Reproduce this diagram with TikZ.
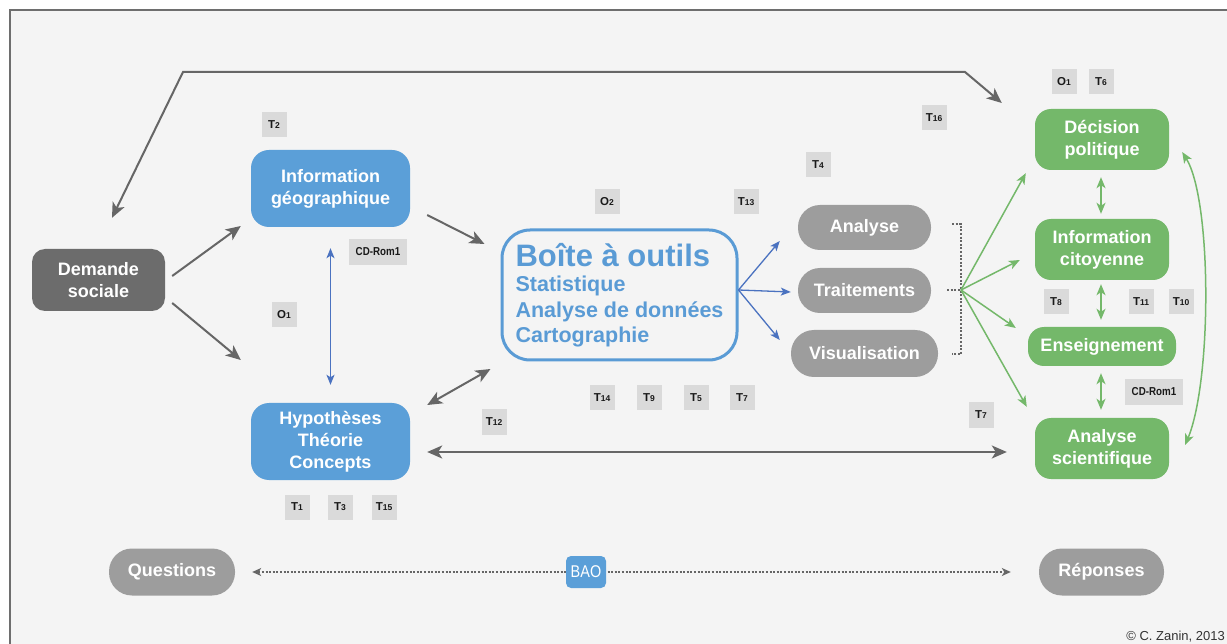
\documentclass[tikz,border=0pt]{standalone}
\usepackage{fontspec}
\setmainfont{Liberation Sans}
\usetikzlibrary{arrows.meta}
\definecolor{bgc}{HTML}{F4F4F4}
\definecolor{framec}{HTML}{6E6E6E}
\definecolor{darkbox}{HTML}{6C6C6C}
\definecolor{bluebox}{HTML}{5B9FD8}
\definecolor{blueline}{HTML}{5A9BD5}
\definecolor{bluearr}{HTML}{4A72C0}
\definecolor{graypill}{HTML}{9D9D9D}
\definecolor{greenbox}{HTML}{74B86A}
\definecolor{labfill}{HTML}{DADADA}
\definecolor{arrgray}{HTML}{666666}
\newcommand{\Tn}[1]{T{\fontsize{8.5}{8.5}\selectfont #1}}
\tikzset{
  boxbase/.style={inner sep=0pt, text=white, align=center,
    font=\fontsize{18}{22}\selectfont\bfseries},
  darknode/.style={boxbase, fill=darkbox, rounded corners=13pt, minimum width=133pt, minimum height=62pt},
  bluenode/.style={boxbase, fill=bluebox, rounded corners=18pt, minimum width=159pt, minimum height=77pt},
  pillnode/.style={boxbase, fill=graypill, rounded corners=22pt},
  greennode/.style={boxbase, fill=greenbox, rounded corners=16pt, minimum width=134pt, minimum height=61pt},
  tlab/.style={fill=labfill, inner sep=0pt, minimum width=25pt, minimum height=25pt,
    text=black!90, font=\fontsize{11.5}{11.5}\selectfont\bfseries},
  garrow/.style={draw=arrgray, line width=2pt, -{Stealth[length=15pt,width=13pt,inset=4pt]}},
  gboth/.style={draw=arrgray, line width=2pt, {Stealth[length=15pt,width=13pt,inset=4pt]}-{Stealth[length=15pt,width=13pt,inset=4pt]}},
  barrow/.style={draw=bluearr, line width=1.3pt, -{Stealth[length=10pt,width=8pt,inset=2.5pt]}},
  bboth/.style={draw=bluearr, line width=1.3pt, {Stealth[length=10pt,width=8pt,inset=2.5pt]}-{Stealth[length=10pt,width=8pt,inset=2.5pt]}},
  grarrow/.style={draw=greenbox, line width=1.5pt, -{Stealth[length=11pt,width=9pt,inset=3pt]}},
  grboth/.style={draw=greenbox, line width=1.5pt, {Stealth[length=11pt,width=9pt,inset=3pt]}-{Stealth[length=11pt,width=9pt,inset=3pt]}},
  dotboth/.style={draw=arrgray, line width=1.1pt, dash pattern=on 2pt off 1.6pt,
    {Stealth[length=9pt,width=8pt,inset=2.5pt]}-{Stealth[length=9pt,width=8pt,inset=2.5pt]}},
  bracketline/.style={draw=arrgray, line width=1.1pt, dash pattern=on 2pt off 1.6pt}
}
\begin{document}
\begin{tikzpicture}[x=1pt,y=-1pt]
\useasboundingbox (0,0) rectangle (1227,644);
\fill[white] (0,0) rectangle (1227,644);
\fill[bgc] (10,10) rectangle (1227,644);
\draw[framec, line width=2pt] (10,644) -- (10,10) -- (1227,10);

% main nodes
\node[darknode] (demande) at (98.5,280) {Demande\\sociale};
\node[bluenode] (infogeo) at (330.5,188.5) {Information\\géographique};
\node[bluenode] (hypo) at (330.5,441.5) {Hypothèses\\Théorie\\Concepts};
\node[draw=blueline, line width=3pt, fill=bgc, rounded corners=28pt, inner sep=0pt,
  minimum width=235pt, minimum height=130pt, align=left, text=blueline,
  font=\fontsize{21.5}{25.5}\selectfont\bfseries] (boite) at (619.5,295)
  {{\fontsize{31}{31}\selectfont Boîte à outils}\\Statistique\\Analyse de données\\Cartographie};
\node[pillnode, minimum width=133pt, minimum height=45pt] (analyse) at (864.5,227.5) {Analyse};
\node[pillnode, minimum width=133pt, minimum height=45pt] (traitements) at (864.5,290.5) {Traitements};
\node[pillnode, minimum width=147pt, minimum height=47pt, rounded corners=23pt] (visu) at (864.5,353.5) {Visualisation};
\node[greennode] (decision) at (1102,139.5) {Décision\\politique};
\node[greennode] (infocit) at (1102,249.5) {Information\\citoyenne};
\node[greennode, minimum width=148pt, minimum height=39pt] (enseign) at (1102,346.5) {Enseignement};
\node[greennode] (anasci) at (1102,448.5) {Analyse\\scientifique};
\node[pillnode, minimum width=126pt, minimum height=47pt, rounded corners=23pt] (questions) at (172,572) {Questions};
\node[pillnode, minimum width=125pt, minimum height=47pt, rounded corners=23pt] (reponses) at (1101.5,572) {Réponses};

% labels
\node[tlab] (t2) at (274,125) {\Tn{2}};
\node[tlab, minimum width=58pt, minimum height=26pt] (cd1) at (378,252) {\scalebox{0.85}[1]{CD-Rom1}};
\node[tlab] (o1a) at (284,315) {O{\fontsize{8.5}{8.5}\selectfont 1}};
\node[tlab] (o2) at (607,202) {O{\fontsize{8.5}{8.5}\selectfont 2}};
\node[tlab] (t13) at (746,202) {\Tn{13}};
\node[tlab] (t14) at (602,398) {\Tn{14}};
\node[tlab] (t9) at (649,398) {\Tn{9}};
\node[tlab] (t5) at (696,398) {\Tn{5}};
\node[tlab] (t7a) at (742,398) {\Tn{7}};
\node[tlab] (t12) at (494,422) {\Tn{12}};
\node[tlab] (t1) at (297,507) {\Tn{1}};
\node[tlab] (t3) at (340,507) {\Tn{3}};
\node[tlab] (t15) at (384,507) {\Tn{15}};
\node[tlab] (t16) at (934,118) {\Tn{16}};
\node[tlab] (t4) at (818,165) {\Tn{4}};
\node[tlab] (o1b) at (1064,82) {O{\fontsize{8.5}{8.5}\selectfont 1}};
\node[tlab] (t6) at (1101,82) {\Tn{6}};
\node[tlab] (t8) at (1056,302) {\Tn{8}};
\node[tlab] (t11) at (1141,302) {\Tn{11}};
\node[tlab] (t10) at (1181,302) {\Tn{10}};
\node[tlab, minimum width=58pt, minimum height=26pt] (cd2) at (1154,392) {\scalebox{0.85}[1]{CD-Rom1}};
\node[tlab] (t7b) at (981,415) {\Tn{7}};

% connectors
\coordinate (tl) at (183,72);
\coordinate (tr) at (965,72);
\draw[gboth] ([shift={(13.5,-31)}]demande.north) -- (tl) -- (tr) -- ([shift={(-33,-36.5)}]decision.west);
\draw[garrow] ([shift={(7,-4)}]demande.east) -- ([shift={(-10,37.5)}]infogeo.west);
\draw[garrow] ([shift={(7,23)}]demande.east) -- ([shift={(-10,-81.5)}]hypo.west);
\draw[garrow] ([shift={(17,26.5)}]infogeo.east) -- ([shift={(-16,-51)}]boite.west);
\draw[gboth] ([shift={(17,-36.5)}]hypo.east) -- ([shift={(-10,74)}]boite.west);
\draw[bboth] ([shift={(0,21)}]infogeo.south) -- ([shift={(0,-18)}]hypo.north);
\draw[barrow] ([shift={(0,-5)}]boite.east) -- ([shift={(-18,13.5)}]analyse.west);
\draw[barrow] ([shift={(0,-5)}]boite.east) -- ([shift={(-7,1.5)}]traitements.west);
\draw[barrow] ([shift={(0,-5)}]boite.east) -- ([shift={(-11,-13.5)}]visu.west);
\draw[gboth] ([shift={(17,10.5)}]hypo.east) -- ([shift={(-28,3.5)}]anasci.west);

% bracket
\coordinate (brt) at (952,224);
\coordinate (brb) at (952,354);
\coordinate (brm) at (947,290);
\coordinate (br) at (961,290);
\draw[bracketline] (brt) -| (brb -| br) -- (brb);
\draw[bracketline] (brm) -- (br);
\draw[grarrow] (br) -- ([shift={(-9,3)}]decision.south west);
\draw[grarrow] (br) -- ([shift={(-15,10.5)}]infocit.west);
\draw[grarrow] (br) -- ([shift={(-12,-18.5)}]enseign.west);
\draw[grarrow] (br) -- ([shift={(-8,-11)}]anasci.north west);
\draw[grboth] ([shift={(-1,7)}]decision.south) -- ([shift={(-1,-5)}]infocit.north);
\draw[grboth] ([shift={(-1,4)}]infocit.south) -- ([shift={(-1,-7)}]enseign.north);
\draw[grboth] ([shift={(-1,7)}]enseign.south) -- ([shift={(-1,-8)}]anasci.north);
\draw[grboth] ([shift={(13,12.5)}]decision.east) .. controls (1212,200) and (1212,380) .. ([shift={(16,-3.5)}]anasci.east);

% bottom
\draw[dotboth] ([shift={(17,0)}]questions.east) -- ([shift={(-28,0)}]reponses.west);
\node[fill=bluebox, rounded corners=5pt, inner sep=0pt, minimum width=40pt, minimum height=32pt,
  text=white, font=\fontsize{17}{17}\selectfont] (bao) at (586,572) {\scalebox{0.85}[1]{BAO}};
\node[anchor=base east, inner sep=0pt, text=black!80, font=\fontsize{13}{13}\selectfont] (copy) at (1225,640) {© C. Zanin, 2013};
\end{tikzpicture}
\end{document}
